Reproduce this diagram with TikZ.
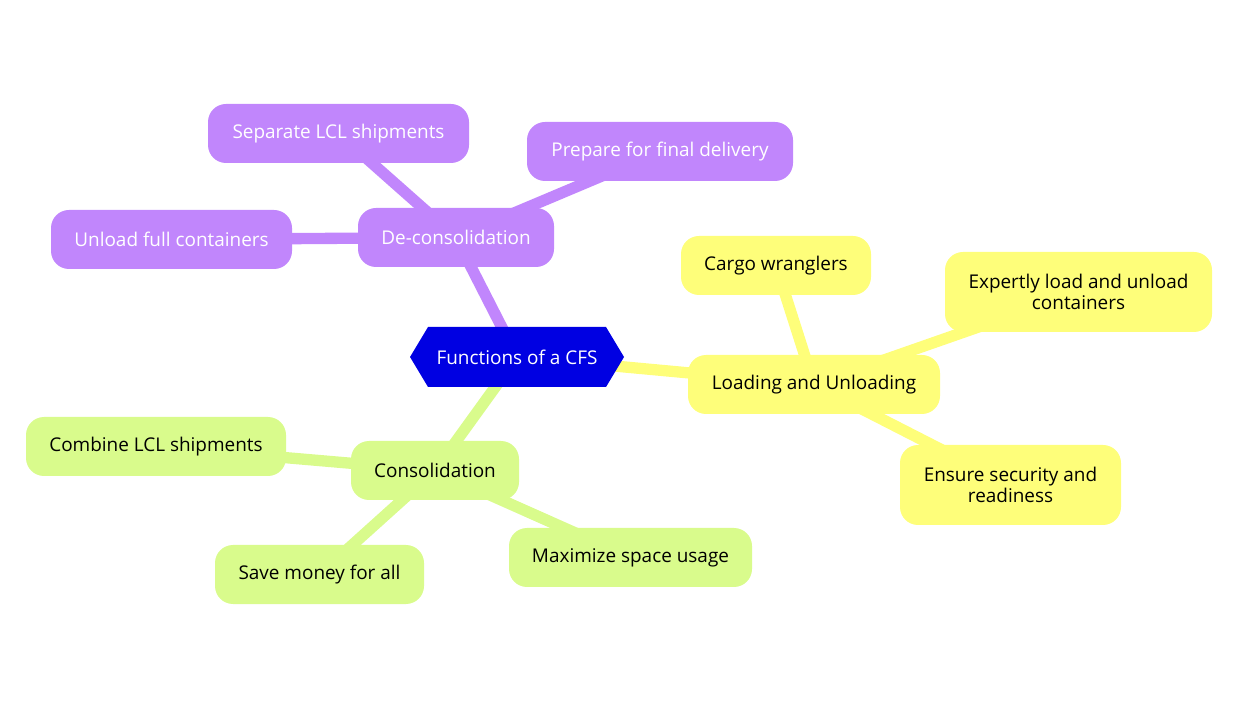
\documentclass[tikz,border=0pt]{standalone}
\usepackage{fontspec}
\setmainfont{Open Sans}
\pgfdeclarelayer{background}
\pgfsetlayers{background,main}
\definecolor{cfsblue}{RGB}{0,0,226}
\definecolor{cfspurple}{RGB}{193,134,252}
\definecolor{cfsyellow}{RGB}{254,254,122}
\definecolor{cfsgreen}{RGB}{217,251,140}
\tikzset{
  box/.style={rounded corners=13.5pt, minimum height=44.25pt, inner sep=2pt, align=center,
    font=\fontsize{14.2}{15.5}\selectfont},
  pbox/.style={box, fill=cfspurple, text=white},
  ybox/.style={box, fill=cfsyellow, text=black},
  gbox/.style={box, fill=cfsgreen, text=black},
  wd/.style={minimum width=#1*0.75pt},
  tall/.style={minimum height=60pt},
  link/.style={line width=8.5pt},
}
\begin{document}
\begin{tikzpicture}[x=0.75pt,y=-0.75pt]
\useasboundingbox (0,0) rectangle (1254,716);
% central hexagon
\fill[cfsblue] (410,357) -- (428,327) -- (606,327) -- (624,357) -- (606,387) -- (428,387) -- cycle;
\node[font=\fontsize{14.2}{16}\selectfont, text=white] (c) at (517,357) {Functions of a CFS};
% purple branch
\node[pbox, wd=196] (dec) at (456,237.5) {De-consolidation};
\node[pbox, wd=261] (sep) at (338.5,133.5) {Separate LCL shipments};
\node[pbox, wd=266] (prep) at (660,151.5) {Prepare for final delivery};
\node[pbox, wd=241] (unl) at (171.5,239.5) {Unload full containers};
% yellow branch
\node[ybox, wd=252] (load) at (814,384.5) {Loading and Unloading};
\node[ybox, wd=190] (cargo) at (776,265.5) {Cargo wranglers};
\node[ybox, wd=267, tall] (exp) at (1078.5,292) {Expertly load and unload\\containers};
\node[ybox, wd=221, tall] (ens) at (1010.5,485) {Ensure security and\\readiness};
% green branch
\node[gbox, wd=168] (con) at (435,470.5) {Consolidation};
\node[gbox, wd=260] (comb) at (156,446.5) {Combine LCL shipments};
\node[gbox, wd=209] (save) at (319.5,574.5) {Save money for all};
\node[gbox, wd=243] (max) at (630.5,557.5) {Maximize space usage};
\begin{pgfonlayer}{background}
\draw[link, cfspurple] (c.center) -- (dec.center);
\draw[link, cfspurple] (dec.center) -- (sep.center);
\draw[link, cfspurple] (dec.center) -- (prep.center);
\draw[link, cfspurple] (dec.center) -- (unl.center);
\draw[link, cfsyellow] (c.center) -- (load.center);
\draw[link, cfsyellow] (load.center) -- (cargo.center);
\draw[link, cfsyellow] (load.center) -- (exp.center);
\draw[link, cfsyellow] (load.center) -- (ens.center);
\draw[link, cfsgreen] (c.center) -- (con.center);
\draw[link, cfsgreen] (con.center) -- (comb.center);
\draw[link, cfsgreen] (con.center) -- (save.center);
\draw[link, cfsgreen] (con.center) -- (max.center);
\end{pgfonlayer}
\end{tikzpicture}
\end{document}
